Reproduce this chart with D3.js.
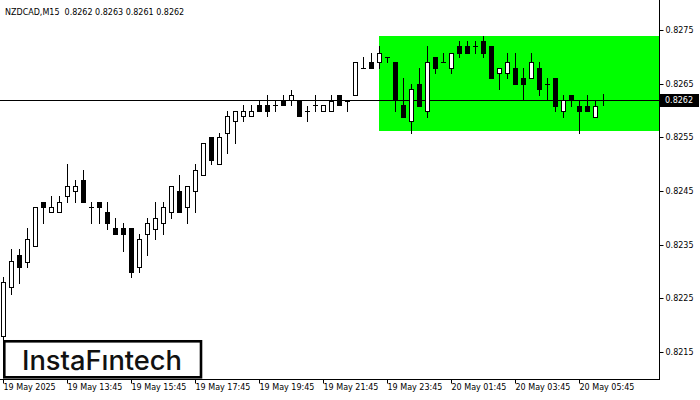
<!DOCTYPE html>
<html><head><meta charset="utf-8">
<script src="https://cdn.jsdelivr.net/npm/d3@7"></script>
<style>body{margin:0;background:#fff}svg{display:block}</style>
</head><body>
<svg id="c" width="700" height="400"></svg>
<script>
const symbolName = "NZDCAD,M15";
const lastQuote = [0.8262, 0.8263, 0.8261, 0.8262];
const opens = [0.82179,0.82271,0.82331,0.82318,0.82348,0.82429,0.82410,0.82410,0.82440,0.82450,
0.82470,0.82420,0.82429,0.82410,0.82381,0.82381,0.82381,0.82309,0.82369,0.82380,
0.82390,0.82410,0.82450,0.82420,0.82450,0.82479,0.82550,0.82500,0.82559,0.82580,
0.82589,0.82589,0.82610,0.82610,0.82610,0.82619,0.82619,0.82619,0.82599,0.82610,
0.82599,0.82599,0.82628,0.82618,0.82628,0.82679,0.82690,0.82690,0.82699,0.82690,
0.82610,0.82580,0.82649,0.82599,0.82699,0.82690,0.82679,0.82720,0.82720,0.82720,
0.82730,0.82720,0.82669,0.82669,0.82679,0.82660,0.82660,0.82679,0.82649,0.82660,
0.82599,0.82629,0.82609,0.82609,0.82588,0.82620];
const highs = [0.82290,0.82341,0.82341,0.82381,0.82420,0.82429,0.82441,0.82441,0.82500,0.82471,
0.82489,0.82429,0.82429,0.82429,0.82399,0.82390,0.82381,0.82369,0.82399,0.82429,
0.82429,0.82459,0.82479,0.82459,0.82500,0.82539,0.82550,0.82559,0.82599,0.82599,
0.82610,0.82610,0.82619,0.82628,0.82619,0.82628,0.82638,0.82619,0.82609,0.82628,
0.82610,0.82628,0.82628,0.82618,0.82690,0.82699,0.82708,0.82720,0.82699,0.82690,
0.82660,0.82649,0.82679,0.82720,0.82699,0.82708,0.82708,0.82730,0.82730,0.82730,
0.82739,0.82720,0.82679,0.82708,0.82708,0.82679,0.82708,0.82690,0.82660,0.82660,
0.82629,0.82629,0.82620,0.82629,0.82620,0.82630];
const lows = [0.82165,0.82258,0.82279,0.82309,0.82348,0.82390,0.82410,0.82410,0.82429,0.82429,
0.82429,0.82390,0.82390,0.82379,0.82369,0.82339,0.82289,0.82300,0.82330,0.82360,
0.82369,0.82399,0.82410,0.82390,0.82410,0.82479,0.82500,0.82500,0.82520,0.82539,
0.82580,0.82589,0.82599,0.82589,0.82599,0.82610,0.82610,0.82590,0.82580,0.82599,
0.82599,0.82599,0.82610,0.82599,0.82628,0.82679,0.82679,0.82679,0.82690,0.82599,
0.82588,0.82559,0.82609,0.82588,0.82669,0.82690,0.82669,0.82699,0.82708,0.82708,
0.82699,0.82660,0.82640,0.82660,0.82649,0.82620,0.82660,0.82628,0.82620,0.82599,
0.82588,0.82609,0.82559,0.82599,0.82588,0.82610];
const closes = [0.82280,0.82320,0.82309,0.82360,0.82420,0.82420,0.82420,0.82429,0.82459,0.82459,
0.82429,0.82420,0.82420,0.82390,0.82369,0.82369,0.82300,0.82360,0.82390,0.82399,
0.82420,0.82459,0.82410,0.82459,0.82489,0.82539,0.82508,0.82550,0.82589,0.82599,
0.82599,0.82599,0.82599,0.82599,0.82610,0.82610,0.82628,0.82590,0.82599,0.82610,
0.82610,0.82618,0.82610,0.82618,0.82690,0.82679,0.82679,0.82708,0.82699,0.82619,
0.82588,0.82640,0.82609,0.82690,0.82679,0.82690,0.82708,0.82708,0.82708,0.82720,
0.82708,0.82660,0.82679,0.82690,0.82649,0.82649,0.82690,0.82640,0.82649,0.82609,
0.82620,0.82620,0.82599,0.82599,0.82609,0.82620];
const timeLabels = ["19 May 2025","19 May 13:45","19 May 15:45","19 May 17:45","19 May 19:45",
"19 May 21:45","19 May 23:45","20 May 01:45","20 May 03:45","20 May 05:45"];
const labelBars = [0,8,16,24,32,40,48,56,64,72];
const priceTicks = [0.8215,0.8225,0.8235,0.8245,0.8255,0.8265,0.8275];
const currentPrice = 0.8262;
const patternStartBar = 47;
const patternTop = 0.82739;
const patternBottom = 0.82561;
const logoText = "InstaFıntech";

const svg = d3.select("#c");
const W = 659, H = 379;
const x = d3.scaleLinear().domain([0, 82]).range([3.3, 659.3]);
const y = d3.scaleLinear().domain([0.8215, 0.8275]).range([352, 30]);
const px = v => Math.round(v) + 0.5;
const font = "'DejaVu Sans', Verdana, sans-serif";

// pattern rectangle
svg.append("rect")
  .attr("x", Math.round(x(patternStartBar)))
  .attr("y", Math.round(y(patternTop)))
  .attr("width", W - Math.round(x(patternStartBar)))
  .attr("height", Math.round(y(patternBottom)) - Math.round(y(patternTop)))
  .attr("fill", "#00ff00");

// current price line
svg.append("line")
  .attr("x1", 0).attr("x2", W)
  .attr("y1", px(y(currentPrice))).attr("y2", px(y(currentPrice)))
  .attr("stroke", "#000").attr("stroke-width", 1);

// candles
const bars = opens.map((o, i) => ({i, o, h: highs[i], l: lows[i], c: closes[i]}));
const g = svg.append("g");
bars.forEach(d => {
  const cx = px(x(d.i));
  const yH = Math.round(y(d.h)), yL = Math.round(y(d.l));
  const yO = Math.round(y(d.o)), yC = Math.round(y(d.c));
  g.append("line").attr("x1", cx).attr("x2", cx)
    .attr("y1", yH).attr("y2", yL + 1)
    .attr("stroke", "#000").attr("stroke-width", 1);
  if (Math.abs(yO - yC) < 1) {
    g.append("line").attr("x1", cx - 2.5).attr("x2", cx + 2.5)
      .attr("y1", yO + 0.5).attr("y2", yO + 0.5)
      .attr("stroke", "#000").attr("stroke-width", 1);
  } else {
    const top = Math.min(yO, yC), bot = Math.max(yO, yC);
    g.append("rect").attr("x", cx - 2).attr("y", top + 0.5)
      .attr("width", 4).attr("height", bot - top)
      .attr("fill", d.c > d.o ? "#fff" : "#000")
      .attr("stroke", "#000").attr("stroke-width", 1);
  }
});

// frame lines
svg.append("line").attr("x1", W + 0.5).attr("x2", W + 0.5).attr("y1", 0).attr("y2", H + 1)
  .attr("stroke", "#000");
svg.append("line").attr("x1", 0).attr("x2", W + 1).attr("y1", H + 0.5).attr("y2", H + 0.5)
  .attr("stroke", "#000");

// right axis
const ya = svg.append("g").attr("transform", `translate(${W + 0.5},0)`)
  .call(d3.axisRight(y).tickValues(priceTicks).tickSize(4).tickSizeOuter(0)
    .tickFormat(d3.format(".4f")));
ya.select(".domain").remove();
ya.selectAll("line").attr("stroke", "#000");
ya.selectAll(".tick").attr("transform", d => `translate(0,${px(y(d))})`);
ya.selectAll("text").attr("x", 6).attr("fill", "#000")
  .style("font-family", font).style("font-size", "8px");

// current price label
const cy = px(y(currentPrice));
svg.append("rect").attr("x", W + 1).attr("y", cy - 6.5).attr("width", 39).attr("height", 13)
  .attr("fill", "#000");
svg.append("text").attr("x", W + 6).attr("y", cy).attr("dy", "0.35em")
  .attr("fill", "#fff").style("font-family", font).style("font-size", "8px")
  .text(d3.format(".4f")(currentPrice));

// bottom axis
const xa = svg.append("g").attr("transform", `translate(0,${H + 0.5})`)
  .call(d3.axisBottom(x).tickValues(labelBars).tickSize(4).tickSizeOuter(0)
    .tickFormat((d, k) => timeLabels[k]));
xa.select(".domain").remove();
xa.selectAll(".tick").attr("transform", d => `translate(${px(x(d))},0)`);
xa.selectAll("line").attr("stroke", "#000");
xa.selectAll("text").attr("text-anchor", "start").attr("x", 0).attr("y", 5)
  .attr("fill", "#000").style("font-family", font).style("font-size", "8px");

// title
svg.append("text").attr("x", 5).attr("y", 15)
  .style("font-family", font).style("font-size", "8px").attr("fill", "#000")
  .attr("xml:space", "preserve")
  .text(symbolName + "  " + lastQuote.map(d3.format(".4f")).join(" "));

// logo
svg.append("rect").attr("x", 4.3).attr("y", 341.3).attr("width", 196.7).attr("height", 36)
  .attr("fill", "#fff").attr("stroke", "#000").attr("stroke-width", 2.6);
svg.append("text").attr("x", 22).attr("y", 369.5)
  .attr("textLength", 160).attr("lengthAdjust", "spacingAndGlyphs")
  .style("font-family", "Inter, Roboto, sans-serif").style("font-weight", 500)
  .style("font-size", "27px").attr("fill", "#111")
  .text(logoText);
</script>
</body></html>
